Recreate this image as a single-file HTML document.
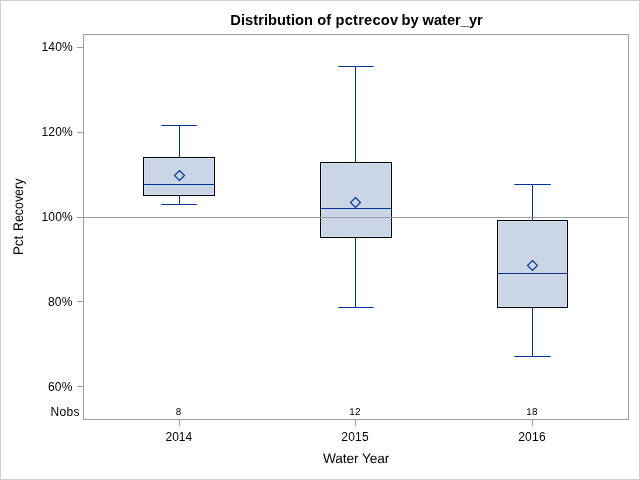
<!DOCTYPE html>
<html><head><meta charset="utf-8"><title>Distribution of pctrecov by water_yr</title>
<style>
html,body{margin:0;padding:0;background:#fff;}
body{width:640px;height:480px;overflow:hidden;}
svg{display:block;font-family:"Liberation Sans",Arial,sans-serif;}
</style></head><body>
<svg width="640" height="480" viewBox="0 0 640 480">
<rect x="0" y="0" width="640" height="480" fill="#fff"/>
<rect x="0.5" y="0.5" width="639" height="479" fill="none" stroke="#d1d1d1" stroke-width="1" shape-rendering="crispEdges"/>
<!-- wall -->
<g shape-rendering="crispEdges" stroke="#989ea1" stroke-width="1" fill="none">
<rect x="83.5" y="34.5" width="545" height="385"/>
<path d="M77 47.5H83M77 132.5H83M77 217.5H83M77 301.5H83M77 386.5H83"/>
<path d="M179.5 420V426M355.5 420V426M532.5 420V426"/>
</g>
<!-- boxes -->
<g shape-rendering="crispEdges">
<g stroke="#000" stroke-width="1" fill="#cad5e5">
<rect x="143.5" y="157.5" width="71" height="38"/>
<rect x="320.5" y="162.5" width="71" height="75"/>
<rect x="497.5" y="220.5" width="70" height="87"/>
</g>
<g stroke="#d4dff1" stroke-width="1" fill="none">
<rect x="144.5" y="158.5" width="69" height="36"/>
<rect x="321.5" y="163.5" width="69" height="73"/>
<rect x="498.5" y="221.5" width="68" height="85"/>
</g>
<g stroke="#003399" stroke-width="1" fill="none">
<path d="M179.5 125V158M179.5 195V205"/>
<path d="M355.5 66V163M355.5 237V308"/>
<path d="M532.5 184V221M532.5 307V357"/>
<path shape-rendering="auto" d="M161.3 125.5H196.8M161.3 204.5H196.8M338.3 66.5H373.7M338.3 307.5H373.7M514.3 184.5H550.8M514.3 356.5H550.8"/>
<path d="M144 184.5H214M321 208.5H391M498 273.5H567"/>
</g>
<path d="M84 217.5H628" stroke="#989ea1" stroke-width="1" fill="none"/>
</g>
<g stroke="#003399" stroke-width="1.15" fill="none">
<path d="M179.5 170.5L184.5 175.5L179.5 180.5L174.5 175.5Z"/>
<path d="M355.5 197.5L360.5 202.5L355.5 207.5L350.5 202.5Z"/>
<path d="M532.5 260.5L537.5 265.5L532.5 270.5L527.5 265.5Z"/>
</g>
<!-- text -->
<g fill="#000" font-size="12px">
<text y="25" font-size="14.67px" font-weight="bold"><tspan x="230.3" letter-spacing="0.04">Distribution</tspan> <tspan x="317.3">of</tspan> <tspan x="335.5" letter-spacing="0.23">pctrecov</tspan> <tspan x="401.6">by</tspan> <tspan x="422.5">water_yr</tspan></text>
<g letter-spacing="0.2">
<text x="41.4" y="51">140%</text>
<text x="41.4" y="136">120%</text>
<text x="41.4" y="221">100%</text>
<text x="48.1" y="306" letter-spacing="0.1">80%</text>
<text x="48.1" y="391" letter-spacing="0.1">60%</text>
</g>
<text x="50.55" y="416" letter-spacing="0.35">Nobs</text>
<text x="165.5" y="441">2014</text>
<text x="341.25" y="441" letter-spacing="0.25">2015</text>
<text x="518.15" y="441" letter-spacing="0.25">2016</text>
<text x="323" y="463" font-size="13.7px" letter-spacing="-0.09" text-rendering="geometricPrecision">Water Year</text>
<g font-size="13.9px" text-rendering="geometricPrecision"><text transform="translate(23,255.1) rotate(-90) scale(0.96,1)">Pct</text>
<text transform="translate(23,231) rotate(-90) scale(0.892,1)">Recovery</text></g>
<g font-size="9.9px" letter-spacing="0.3" text-rendering="geometricPrecision">
<text x="175.8" y="415">8</text>
<text x="349.2" y="415">12</text>
<text x="526.2" y="415">18</text>
</g>
</g>
</svg>
</body></html>
